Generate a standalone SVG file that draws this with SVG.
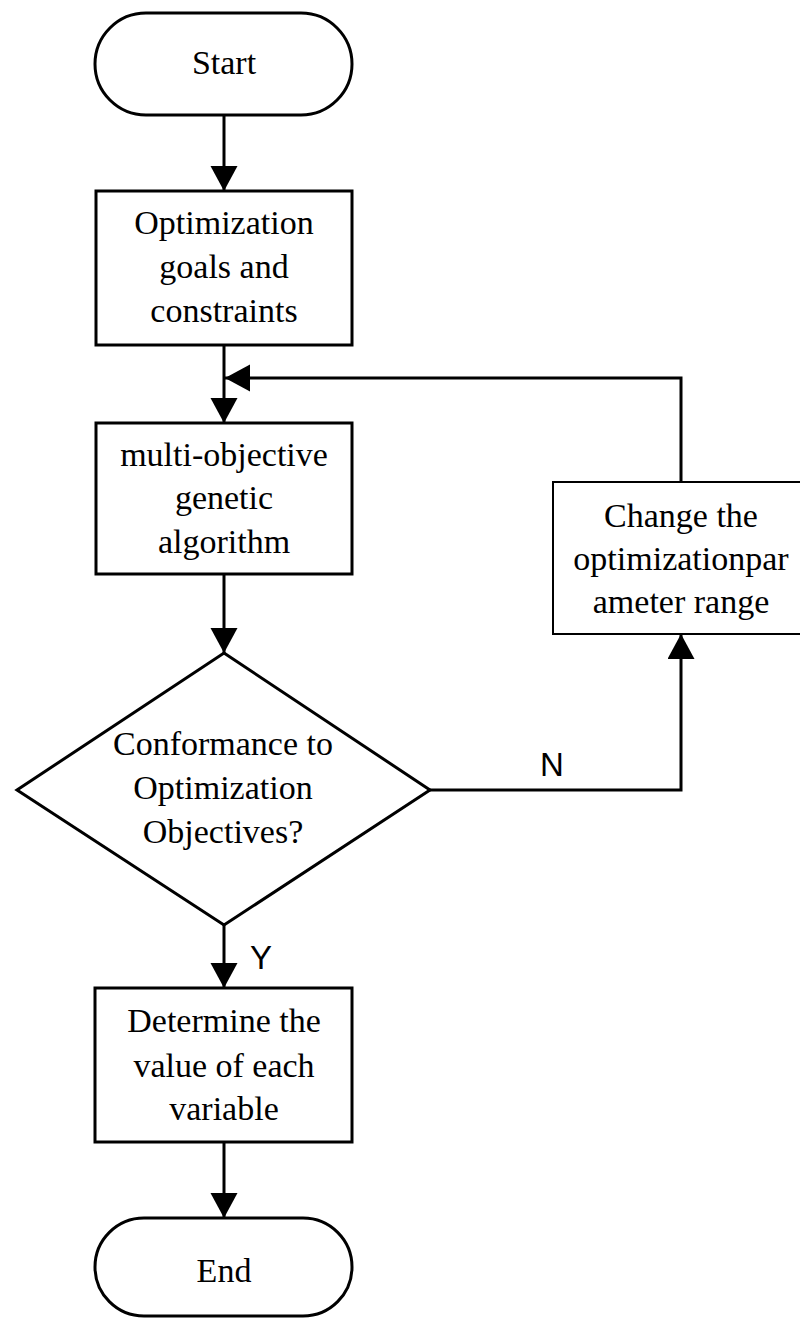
<svg xmlns="http://www.w3.org/2000/svg" width="800" height="1318" viewBox="0 0 800 1318">
<style>
.shape{fill:#fff;stroke:#000;stroke-width:3}
.thin{stroke-width:2}
.t{font-family:"Liberation Serif","Times New Roman",serif;font-size:34px;fill:#000;text-anchor:middle}
.lbl{font-family:"Liberation Sans",Arial,sans-serif;font-size:33px;fill:#000}
.conn{fill:none;stroke:#000;stroke-width:3}
</style>
<defs>
<marker id="arr" markerUnits="userSpaceOnUse" markerWidth="26" markerHeight="28" refX="25" refY="13.5" orient="auto">
<path d="M0,0 L25,13.5 L0,27 z" fill="#000"/>
</marker>
</defs>
<rect width="800" height="1318" fill="#fff"/>
<g id="connectors">
<line class="conn" x1="224" y1="115" x2="224" y2="191" marker-end="url(#arr)"/>
<line class="conn" x1="224" y1="345" x2="224" y2="423" marker-end="url(#arr)"/>
<line class="conn" x1="224" y1="574" x2="224" y2="653" marker-end="url(#arr)"/>
<line class="conn" x1="224" y1="925" x2="224" y2="988" marker-end="url(#arr)"/>
<line class="conn" x1="224" y1="1142" x2="224" y2="1218" marker-end="url(#arr)"/>
<polyline class="conn" points="430,790 681,790 681,634" marker-end="url(#arr)"/>
<polyline class="conn" points="681,482 681,378 225,378" marker-end="url(#arr)"/>
<text class="lbl" x="540" y="776">N</text>
<text class="lbl" x="250" y="969">Y</text>
</g>
<g id="start">
<rect class="shape" x="95" y="13" width="257" height="102" rx="51"/>
<text class="t" x="224" y="74">Start</text>
</g>
<g id="goals">
<rect class="shape" x="96" y="191" width="256" height="154"/>
<text class="t" x="224" y="234">Optimization</text>
<text class="t" x="224" y="278">goals and</text>
<text class="t" x="224" y="322">constraints</text>
</g>
<g id="moga">
<rect class="shape" x="96" y="423" width="256" height="151"/>
<text class="t" x="224" y="466">multi-objective</text>
<text class="t" x="224" y="509">genetic</text>
<text class="t" x="224" y="553">algorithm</text>
</g>
<g id="change">
<rect class="shape thin" x="553" y="482" width="260" height="152"/>
<text class="t" x="681" y="527">Change the</text>
<text class="t" x="681" y="570">optimizationpar</text>
<text class="t" x="681" y="613">ameter range</text>
</g>
<g id="decision">
<polygon class="shape" points="224,653 430,790 224,925 17,790"/>
<text class="t" x="223" y="755">Conformance to</text>
<text class="t" x="223" y="799">Optimization</text>
<text class="t" x="223" y="843">Objectives?</text>
</g>
<g id="determine">
<rect class="shape" x="95" y="988" width="257" height="154"/>
<text class="t" x="224" y="1032">Determine the</text>
<text class="t" x="224" y="1077">value of each</text>
<text class="t" x="224" y="1120">variable</text>
</g>
<g id="end">
<rect class="shape" x="95" y="1218" width="257" height="98" rx="49"/>
<text class="t" x="224" y="1282">End</text>
</g>
</svg>
